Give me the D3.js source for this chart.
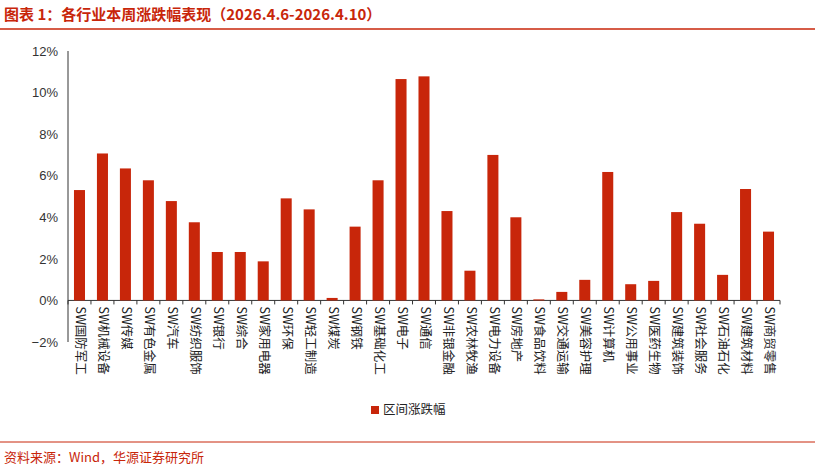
<!DOCTYPE html><html><head><meta charset="utf-8"><script src="https://d3js.org/d3.v7.min.js"></script>
<style>body{margin:0;background:#fff;font-family:"Noto Sans CJK SC",sans-serif}</style></head><body><svg id="chart" width="815" height="473"></svg>
<script>
const categories=["SW国防军工","SW机械设备","SW传媒","SW有色金属","SW汽车","SW纺织服饰","SW银行","SW综合","SW家用电器","SW环保","SW轻工制造","SW煤炭","SW钢铁","SW基础化工","SW电子","SW通信","SW非银金融","SW农林牧渔","SW电力设备","SW房地产","SW食品饮料","SW交通运输","SW美容护理","SW计算机","SW公用事业","SW医药生物","SW建筑装饰","SW社会服务","SW石油石化","SW建筑材料","SW商贸零售"];
const values=[5.31,7.07,6.35,5.78,4.78,3.76,2.33,2.33,1.88,4.91,4.38,0.12,3.55,5.78,10.65,10.78,4.30,1.43,7.0,4.0,0.05,0.41,0.99,6.18,0.78,0.94,4.25,3.69,1.23,5.36,3.31];
const yTicks=[-2,0,2,4,6,8,10,12];
const red="#C8260A";
const svg=d3.select("#chart");
svg.append("text").attr("x",4).attr("y",20).attr("fill",red).attr("font-size",15).attr("font-weight","bold").text("图表 1：各行业本周涨跌幅表现（2026.4.6-2026.4.10）");
svg.append("line").attr("x1",0).attr("x2",815).attr("y1",29).attr("y2",29).attr("stroke",red).attr("stroke-width",1.5);
svg.append("line").attr("x1",0).attr("x2",815).attr("y1",442).attr("y2",442).attr("stroke",red).attr("stroke-width",1);
svg.append("text").attr("x",4).attr("y",462).attr("fill",red).attr("font-size",13).text("资料来源：Wind，华源证券研究所");
const x=d3.scaleBand().domain(categories).range([68,780]).paddingInner(0.52).paddingOuter(0.26);
const y=d3.scaleLinear().domain([-2,12]).range([342,51]);
const g=svg.append("g");
g.append("g").attr("transform","translate(68,0)").call(d3.axisLeft(y).tickValues(yTicks).tickSize(0).tickPadding(10))
 .call(a=>{a.select(".domain").remove();a.selectAll("text").attr("font-family","Liberation Sans, Arial").attr("font-size",13).attr("fill","#333").text(d=>(d<0?"−"+(-d):d)+"%");});
g.append("line").attr("x1",68).attr("x2",68).attr("y1",y(12)).attr("y2",y(-2)).attr("stroke","#333");
g.append("line").attr("x1",68).attr("x2",780).attr("y1",y(0)).attr("y2",y(0)).attr("stroke","#333");
for(let i=0;i<=31;i++){const xx=68+i*712/31;g.append("line").attr("x1",xx).attr("x2",xx).attr("y1",y(0)).attr("y2",y(0)+4).attr("stroke","#333");}
g.selectAll("rect.bar").data(values).join("rect").attr("class","bar").attr("x",(d,i)=>x(categories[i])).attr("width",x.bandwidth())
 .attr("y",d=>y(Math.max(0,d))).attr("height",d=>Math.abs(y(d)-y(0))).attr("fill",red);
g.selectAll("text.lab").data(categories).join("text").attr("class","lab")
 .attr("transform",d=>`translate(${x(d)+x.bandwidth()/2},${y(0)+6}) rotate(90)`)
 .attr("font-size",12.5).attr("fill","#222").attr("dominant-baseline","middle").text(d=>d);
svg.append("rect").attr("x",371).attr("y",406).attr("width",8).attr("height",8).attr("fill",red);
svg.append("text").attr("x",383).attr("y",414).attr("font-size",12.5).attr("fill","#222").text("区间涨跌幅");
</script></body></html>
